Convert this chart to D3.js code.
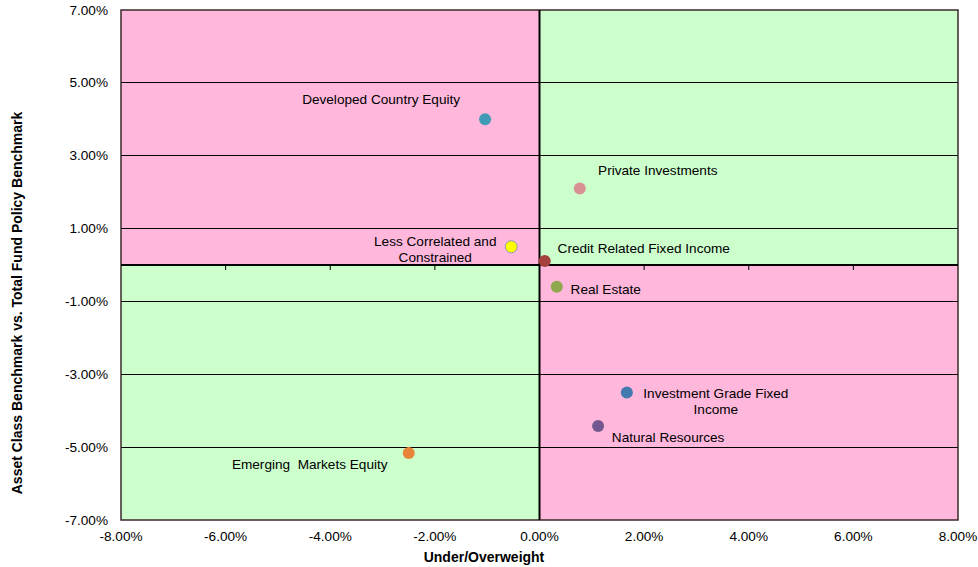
<!DOCTYPE html>
<meta charset="utf-8">
<style>

body {
  margin: 0;
  background: #fff;
}

svg {
  font: 13.6px "Liberation Sans", Arial, sans-serif;
}

.tick-label {
  fill: #000;
}

.axis-title {
  font-weight: bold;
  font-size: 14px;
}

.grid line {
  stroke: #000;
  stroke-width: 1;
  shape-rendering: crispEdges;
}

.frame {
  fill: none;
  stroke: #3a2a2a;
  stroke-width: 1.5;
}

.zero {
  stroke: #000;
  stroke-width: 2;
}

</style>
<body>
<script src="https://cdn.jsdelivr.net/npm/d3@7"></script>
<script>

var width = 978,
    height = 567,
    margin = {top: 10, right: 20, bottom: 47, left: 121};

// asset classes, underweight/overweight (x) and benchmark difference (y), in %
var classes = ["Developed Country Equity", "Private Investments", "Less Correlated and Constrained",
  "Credit Related Fixed Income", "Real Estate", "Investment Grade Fixed Income",
  "Natural Resources", "Emerging Markets Equity"];
var weights = [-1.04, 0.77, -0.54, 0.10, 0.33, 1.67, 1.12, -2.50];
var benchmarks = [4.00, 2.10, 0.50, 0.11, -0.60, -3.50, -4.42, -5.16];
var colors = ["#3F9AB5", "#D99092", "#FFFF00", "#A5403D", "#8FA84D", "#4379AF", "#73578F", "#E8843A"];

var xTicks = [-8, -6, -4, -2, 0, 2, 4, 6, 8];
var yTicks = [7, 5, 3, 1, -1, -3, -5, -7];

// label lines and placement relative to each point (pixels)
var labelLines = [["Developed Country Equity"], ["Private Investments"], ["Less Correlated and", "Constrained"],
  ["Credit Related Fixed Income"], ["Real Estate"], ["Investment Grade Fixed", "Income"],
  ["Natural Resources"], ["Emerging  Markets Equity"]];
var labelOffset = [[-104, -15], [78, -14], [-76, -1], [99, -8], [49, 7], [89, 5], [70, 16], [-99, 16]];

var data = classes.map(function(c, i) {
  return {name: c, x: weights[i], y: benchmarks[i], color: colors[i], lines: labelLines[i], off: labelOffset[i]};
});

var x = d3.scaleLinear().domain([-8, 8]).range([margin.left, width - margin.right]);
var y = d3.scaleLinear().domain([-7, 7]).range([height - margin.bottom, margin.top]);

var svg = d3.select("body").append("svg")
    .attr("width", width)
    .attr("height", height);

// quadrants
var quads = [
  {x0: -8, x1: 0, y0: 0, y1: 7, fill: "#FFB7DB"},
  {x0: 0, x1: 8, y0: 0, y1: 7, fill: "#CCFFCC"},
  {x0: -8, x1: 0, y0: -7, y1: 0, fill: "#CCFFCC"},
  {x0: 0, x1: 8, y0: -7, y1: 0, fill: "#FFB7DB"}
];

svg.selectAll(".quad")
    .data(quads)
  .enter().append("rect")
    .attr("class", "quad")
    .attr("x", function(d) { return x(d.x0); })
    .attr("y", function(d) { return y(d.y1); })
    .attr("width", function(d) { return x(d.x1) - x(d.x0); })
    .attr("height", function(d) { return y(d.y0) - y(d.y1); })
    .style("fill", function(d) { return d.fill; });

// horizontal gridlines
svg.append("g")
    .attr("class", "grid")
  .selectAll("line")
    .data(yTicks.filter(function(d) { return Math.abs(d) !== 7; }))
  .enter().append("line")
    .attr("x1", x(-8))
    .attr("x2", x(8))
    .attr("y1", function(d) { return y(d); })
    .attr("y2", function(d) { return y(d); });

svg.append("rect")
    .attr("class", "frame")
    .attr("x", x(-8))
    .attr("y", y(7))
    .attr("width", x(8) - x(-8))
    .attr("height", y(-7) - y(7));

// axes through zero
svg.append("line")
    .attr("class", "zero")
    .attr("x1", x(-8)).attr("x2", x(8))
    .attr("y1", y(0)).attr("y2", y(0));

svg.append("line")
    .attr("class", "zero")
    .attr("x1", x(0)).attr("x2", x(0))
    .attr("y1", y(7)).attr("y2", y(-7));

svg.append("g")
  .selectAll("line")
    .data(xTicks.filter(function(d) { return Math.abs(d) !== 8 && d !== 0; }))
  .enter().append("line")
    .attr("x1", function(d) { return x(d); })
    .attr("x2", function(d) { return x(d); })
    .attr("y1", y(0))
    .attr("y2", y(0) + 5)
    .style("stroke", "#000")
    .style("stroke-width", 1);

var fmt = function(d) { return d.toFixed(2) + "%"; };

svg.append("g")
  .selectAll("text")
    .data(xTicks)
  .enter().append("text")
    .attr("class", "tick-label")
    .attr("x", function(d) { return x(d); })
    .attr("y", height - margin.bottom + 21)
    .attr("text-anchor", "middle")
    .text(fmt);

svg.append("g")
  .selectAll("text")
    .data(yTicks)
  .enter().append("text")
    .attr("class", "tick-label")
    .attr("x", margin.left - 13)
    .attr("y", function(d) { return y(d) + 4.5; })
    .attr("text-anchor", "end")
    .text(fmt);

svg.append("text")
    .attr("class", "axis-title")
    .attr("x", 484)
    .attr("y", 562)
    .attr("text-anchor", "middle")
    .text("Under/Overweight");

svg.append("text")
    .attr("class", "axis-title")
    .attr("transform", "translate(22," + 303 + ")rotate(-90)")
    .attr("text-anchor", "middle")
    .text("Asset Class Benchmark vs. Total Fund Policy Benchmark");

// points
svg.selectAll(".dot")
    .data(data)
  .enter().append("circle")
    .attr("class", "dot")
    .attr("cx", function(d) { return x(d.x); })
    .attr("cy", function(d) { return y(d.y); })
    .attr("r", 6)
    .style("fill", function(d) { return d.color; })
    .style("stroke", function(d) { return d.color === "#FFFF00" ? "#8a9ab8" : "none"; })
    .style("stroke-width", 1);

var label = svg.selectAll(".label")
    .data(data)
  .enter().append("text")
    .attr("class", "label")
    .attr("text-anchor", "middle")
    .attr("transform", function(d) {
      return "translate(" + (x(d.x) + d.off[0]) + "," + (y(d.y) + d.off[1]) + ")";
    });

label.selectAll("tspan")
    .data(function(d) { return d.lines; })
  .enter().append("tspan")
    .attr("x", 0)
    .attr("y", function(d, i) { return i * 16; })
    .style("white-space", "pre")
    .text(function(d) { return d; });

</script>
